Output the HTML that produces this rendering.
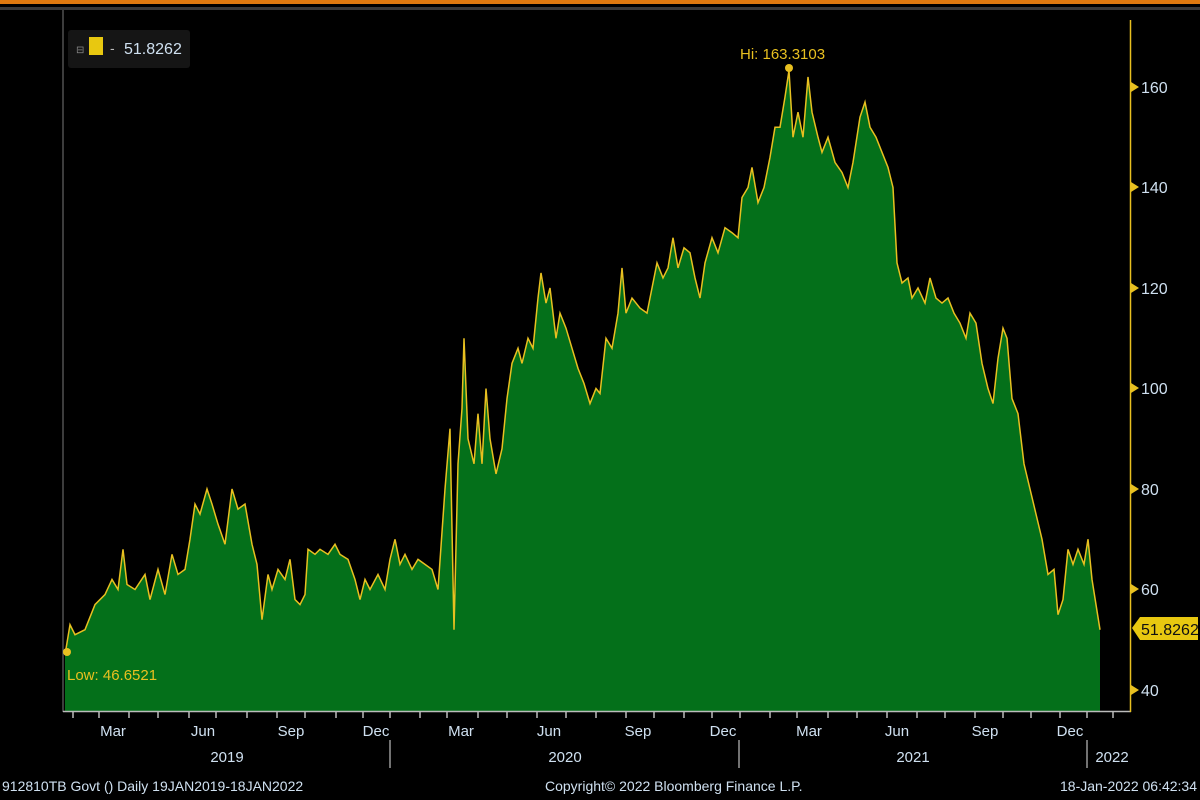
<!DOCTYPE html>
<html><head><meta charset="utf-8"><style>
html,body{margin:0;padding:0;background:#000;width:1200px;height:800px;overflow:hidden}
text{font-family:"Liberation Sans",sans-serif}
</style></head><body>
<svg width="1200" height="800" viewBox="0 0 1200 800" xmlns="http://www.w3.org/2000/svg">
<rect width="1200" height="800" fill="#000"/>
<rect x="0" y="0" width="1200" height="4" fill="#e07a10"/>
<rect x="0" y="7" width="1200" height="3" fill="#3a3a3a"/>
<line x1="63" y1="10" x2="63" y2="712" stroke="#777" stroke-width="1"/>
<g transform="translate(0,891) scale(1,-5.025)">
<polygon fill="#04701a" points="65,35.8 65,47 70,53 75,51 85,52 95,57 105,59 112,62 118,60 123,68 127,61 135,60 145,63 150,58 158,64 165,59 172,67 178,63 185,64 190,70 195,77 200,75 207,80 212,77 218,73 225,69 232,80 238,76 245,77 252,69 257,65 262,54 268,63 272,60 278,64 285,62 290,66 295,58 300,57 305,59 308,68 315,67 320,68 328,67 335,69 340,67 348,66 355,62 360,58 365,62 370,60 378,63 385,60 390,66 395,70 400,65 405,67 412,64 418,66 425,65 432,64 438,60 445,80 450,92 454,52 458,85 462,96 464,110 468,90 474,85 478,95 482,85 486,100 490,90 496,83 502,88 507,98 512,105 518,108 522,105 528,110 533,108 538,118 541,123 546,117 550,120 556,110 560,115 566,112 572,108 578,104 584,101 590,97 596,100 600,99 606,110 612,108 618,115 622,124 626,115 632,118 640,116 647,115 652,120 657,125 663,122 668,124 673,130 678,124 684,128 690,127 695,122 700,118 705,125 712,130 718,127 725,132 732,131 738,130 742,138 748,140 752,144 758,137 764,140 770,146 775,152 780,152 785,158 789,163.3 793,150 798,155 803,150 808,162 812,155 818,150 822,147 828,150 835,145 842,143 848,140 853,145 860,154 865,157 870,152 876,150 882,147 888,144 893,140 897,125 902,121 908,122 912,118 918,120 925,117 930,122 936,118 942,117 948,118 954,115 960,113 966,110 970,115 976,113 982,105 988,100 993,97 998,106 1003,112 1007,110 1012,98 1018,95 1024,85 1030,80 1036,75 1042,70 1048,63 1054,64 1058,55 1063,58 1068,68 1073,65 1078,68 1084,65 1088,70 1092,62 1096,57 1100,52 1100,35.8"/>
<polyline fill="none" stroke="#e8c020" stroke-width="1.5" vector-effect="non-scaling-stroke" points="65,47 70,53 75,51 85,52 95,57 105,59 112,62 118,60 123,68 127,61 135,60 145,63 150,58 158,64 165,59 172,67 178,63 185,64 190,70 195,77 200,75 207,80 212,77 218,73 225,69 232,80 238,76 245,77 252,69 257,65 262,54 268,63 272,60 278,64 285,62 290,66 295,58 300,57 305,59 308,68 315,67 320,68 328,67 335,69 340,67 348,66 355,62 360,58 365,62 370,60 378,63 385,60 390,66 395,70 400,65 405,67 412,64 418,66 425,65 432,64 438,60 445,80 450,92 454,52 458,85 462,96 464,110 468,90 474,85 478,95 482,85 486,100 490,90 496,83 502,88 507,98 512,105 518,108 522,105 528,110 533,108 538,118 541,123 546,117 550,120 556,110 560,115 566,112 572,108 578,104 584,101 590,97 596,100 600,99 606,110 612,108 618,115 622,124 626,115 632,118 640,116 647,115 652,120 657,125 663,122 668,124 673,130 678,124 684,128 690,127 695,122 700,118 705,125 712,130 718,127 725,132 732,131 738,130 742,138 748,140 752,144 758,137 764,140 770,146 775,152 780,152 785,158 789,163.3 793,150 798,155 803,150 808,162 812,155 818,150 822,147 828,150 835,145 842,143 848,140 853,145 860,154 865,157 870,152 876,150 882,147 888,144 893,140 897,125 902,121 908,122 912,118 918,120 925,117 930,122 936,118 942,117 948,118 954,115 960,113 966,110 970,115 976,113 982,105 988,100 993,97 998,106 1003,112 1007,110 1012,98 1018,95 1024,85 1030,80 1036,75 1042,70 1048,63 1054,64 1058,55 1063,58 1068,68 1073,65 1078,68 1084,65 1088,70 1092,62 1096,57 1100,52"/>
</g>
<circle cx="789" cy="68" r="4" fill="#e8c020"/>
<circle cx="67" cy="652" r="4" fill="#e8c020"/>
<text x="740" y="59" fill="#e8c020" font-size="15">Hi: 163.3103</text>
<text x="67" y="680" fill="#e8c020" font-size="15">Low: 46.6521</text>
<!-- legend -->
<rect x="68" y="30" width="122" height="38" rx="3" fill="#151515"/>
<text x="76" y="53" fill="#888" font-size="10">⊟</text>
<rect x="89" y="37" width="14" height="18" fill="#e8c810"/>
<text x="110" y="53" fill="#bbb" font-size="14">-</text>
<text x="124" y="54" fill="#cfe0f0" font-size="16">51.8262</text>
<!-- axes -->
<line x1="63" y1="711.5" x2="1131" y2="711.5" stroke="#bbb" stroke-width="1.5"/>
<line x1="1130.5" y1="20" x2="1130.5" y2="712" stroke="#e8c020" stroke-width="1.5"/>
<g fill="#e8c020">
<polygon points="1131,82 1139,87 1131,92"/><polygon points="1131,182 1139,187 1131,192"/>
<polygon points="1131,283 1139,288 1131,293"/><polygon points="1131,383 1139,388 1131,393"/>
<polygon points="1131,484 1139,489 1131,494"/><polygon points="1131,584 1139,589 1131,594"/>
<polygon points="1131,685 1139,690 1131,695"/>
</g>
<g fill="#cfe0f0" font-size="16">
<text x="1141" y="93">160</text><text x="1141" y="193">140</text><text x="1141" y="294">120</text>
<text x="1141" y="394">100</text><text x="1141" y="495">80</text><text x="1141" y="595">60</text><text x="1141" y="696">40</text>
</g>
<polygon points="1132,628 1140,617 1198,617 1198,640 1140,640" fill="#e8c810"/>
<text x="1141" y="635" fill="#111" font-size="16">51.8262</text>
<!-- x ticks -->
<g stroke="#bbb" stroke-width="1.5">
<line x1="73" y1="712" x2="73" y2="718"/><line x1="99" y1="712" x2="99" y2="718"/><line x1="129" y1="712" x2="129" y2="718"/><line x1="158" y1="712" x2="158" y2="718"/><line x1="189" y1="712" x2="189" y2="718"/><line x1="216" y1="712" x2="216" y2="718"/><line x1="247" y1="712" x2="247" y2="718"/><line x1="277" y1="712" x2="277" y2="718"/><line x1="305" y1="712" x2="305" y2="718"/><line x1="336" y1="712" x2="336" y2="718"/><line x1="363" y1="712" x2="363" y2="718"/><line x1="390" y1="712" x2="390" y2="718"/><line x1="420" y1="712" x2="420" y2="718"/><line x1="447" y1="712" x2="447" y2="718"/><line x1="478" y1="712" x2="478" y2="718"/><line x1="507" y1="712" x2="507" y2="718"/><line x1="537" y1="712" x2="537" y2="718"/><line x1="566" y1="712" x2="566" y2="718"/><line x1="596" y1="712" x2="596" y2="718"/><line x1="626" y1="712" x2="626" y2="718"/><line x1="654" y1="712" x2="654" y2="718"/><line x1="684" y1="712" x2="684" y2="718"/><line x1="712" y1="712" x2="712" y2="718"/><line x1="740" y1="712" x2="740" y2="718"/><line x1="770" y1="712" x2="770" y2="718"/><line x1="797" y1="712" x2="797" y2="718"/><line x1="828" y1="712" x2="828" y2="718"/><line x1="857" y1="712" x2="857" y2="718"/><line x1="887" y1="712" x2="887" y2="718"/><line x1="917" y1="712" x2="917" y2="718"/><line x1="945" y1="712" x2="945" y2="718"/><line x1="975" y1="712" x2="975" y2="718"/><line x1="1003" y1="712" x2="1003" y2="718"/><line x1="1031" y1="712" x2="1031" y2="718"/><line x1="1060" y1="712" x2="1060" y2="718"/><line x1="1087" y1="712" x2="1087" y2="718"/><line x1="1113" y1="712" x2="1113" y2="718"/>
</g>
<g stroke="#999" stroke-width="1.5">
<line x1="390" y1="740" x2="390" y2="768"/><line x1="739" y1="740" x2="739" y2="768"/><line x1="1087" y1="740" x2="1087" y2="768"/>
</g>
<g fill="#cfe0f0" font-size="15" text-anchor="middle">
<text x="113" y="736">Mar</text><text x="203" y="736">Jun</text><text x="291" y="736">Sep</text><text x="376" y="736">Dec</text>
<text x="461" y="736">Mar</text><text x="549" y="736">Jun</text><text x="638" y="736">Sep</text><text x="723" y="736">Dec</text>
<text x="809" y="736">Mar</text><text x="897" y="736">Jun</text><text x="985" y="736">Sep</text><text x="1070" y="736">Dec</text>
<text x="227" y="762">2019</text><text x="565" y="762">2020</text><text x="913" y="762">2021</text><text x="1112" y="762">2022</text>
</g>
<g fill="#cfe0f0" font-size="14">
<text x="2" y="791">912810TB Govt ()  Daily 19JAN2019-18JAN2022</text>
<text x="545" y="791">Copyright© 2022 Bloomberg Finance L.P.</text>
<text x="1197" y="791" text-anchor="end">18-Jan-2022 06:42:34</text>
</g>
</svg>
</body></html>
